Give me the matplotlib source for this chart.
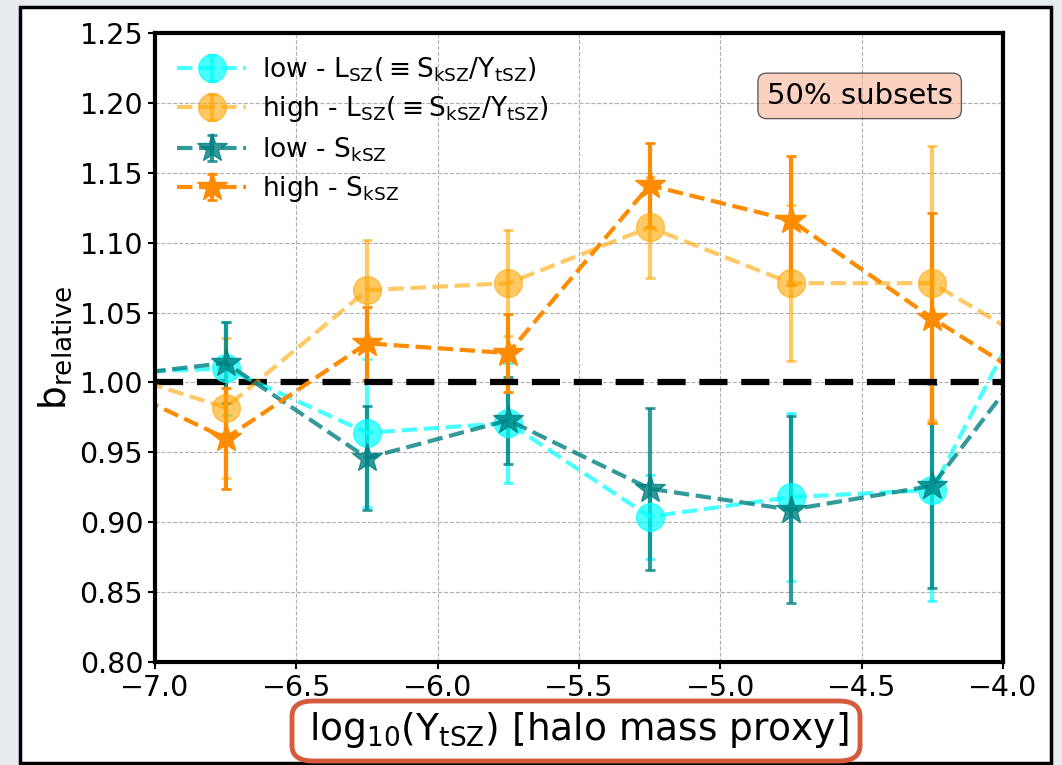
import numpy as np
import matplotlib.pyplot as plt
from matplotlib.patches import Rectangle, FancyBboxPatch

# bin centres in log10(Y_tSZ); first and last bins fall outside the shown range
x = [-7.25, -6.75, -6.25, -5.75, -5.25, -4.75, -4.25, -3.75]

low_lsz = [1.006, 1.010, 0.964, 0.971, 0.904, 0.918, 0.923, 1.119]
low_lsz_err = [0.04, 0.033, 0.053, 0.043, 0.030, 0.060, 0.079, 0.05]

high_lsz = [1.014, 0.982, 1.066, 1.071, 1.111, 1.071, 1.071, 1.011]
high_lsz_err = [0.04, 0.050, 0.036, 0.038, 0.036, 0.056, 0.098, 0.05]

low_sksz = [1.002, 1.014, 0.946, 0.973, 0.924, 0.909, 0.926, 1.058]
low_sksz_err = [0.04, 0.029, 0.037, 0.031, 0.058, 0.067, 0.073, 0.05]

high_sksz = [1.008, 0.960, 1.028, 1.021, 1.141, 1.116, 1.046, 0.982]
high_sksz_err = [0.04, 0.036, 0.026, 0.028, 0.030, 0.046, 0.075, 0.05]

fig = plt.figure(figsize=(10.62, 7.65), dpi=100)
fig.patch.set_facecolor('#e8ebef')

# white slide panel with black frame
fig.patches.append(Rectangle((20 / 1062, 2 / 765), 1031 / 1062, 756 / 765,
                             transform=fig.transFigure, facecolor='white',
                             edgecolor='black', linewidth=2.5, zorder=-5))

ax = fig.add_axes([0.146, 0.1346, 0.7984, 0.8223])
ax.set_zorder(1)

kw = dict(lw=3, elinewidth=3, capsize=3.5, capthick=2)
ax.errorbar(x, low_lsz, yerr=low_lsz_err, fmt='o--', color='cyan', alpha=0.7,
            ms=20, **kw,
            label=r'low - L$_{\rm SZ}$($\equiv$S$_{\rm kSZ}$/Y$_{\rm tSZ}$)')
ax.errorbar(x, high_lsz, yerr=high_lsz_err, fmt='o--', color='orange', alpha=0.6,
            ms=20, **kw,
            label=r'high - L$_{\rm SZ}$($\equiv$S$_{\rm kSZ}$/Y$_{\rm tSZ}$)')
ax.errorbar(x, low_sksz, yerr=low_sksz_err, fmt='*--', color='teal', alpha=0.8,
            ms=22, **kw, label=r'low - S$_{\rm kSZ}$')
ax.errorbar(x, high_sksz, yerr=high_sksz_err, fmt='*--', color='darkorange',
            ms=22, **kw, label=r'high - S$_{\rm kSZ}$')

ax.axhline(1.0, color='black', ls='--', lw=4.5, dashes=(4.5, 2.2))

ax.set_xlim(-7, -4)
ax.set_ylim(0.8, 1.25)
ax.set_xticks(np.arange(-7, -3.9, 0.5))
ax.set_yticks(np.arange(0.8, 1.26, 0.05))
ax.yaxis.set_major_formatter(plt.FormatStrFormatter('%.2f'))
ax.tick_params(labelsize=20.5, width=1.5, length=5)
ax.grid(True, ls='--', color='#b0b0b0', lw=0.8)
for s in ax.spines.values():
    s.set_linewidth(3)

ax.set_ylabel(r'b$_{\rm relative}$', fontsize=27)
ax.set_xlabel(r'log$_{10}$(Y$_{\rm tSZ}$) [halo mass proxy]', fontsize=27,
              labelpad=6)

ax.legend(loc='upper left', frameon=False, fontsize=19, handlelength=2.6,
          borderaxespad=0.45, labelspacing=0.4, handletextpad=0.6)

ax.text(0.831, 0.9, '50% subsets', transform=ax.transAxes, fontsize=21,
        ha='center', va='center',
        bbox=dict(boxstyle='round,pad=0.3', facecolor='#f9b49a', alpha=0.6,
                  edgecolor='black'))

# hand-drawn style highlight around the x label
fig.patches.append(FancyBboxPatch((292 / 1062, 4 / 765), 568 / 1062, 60 / 765,
                                  boxstyle='round,pad=0,rounding_size=0.02',
                                  transform=fig.transFigure, facecolor='none',
                                  edgecolor='#d65a3c', linewidth=3.5, zorder=5))

plt.savefig('out.png', dpi=100, facecolor=fig.get_facecolor())
